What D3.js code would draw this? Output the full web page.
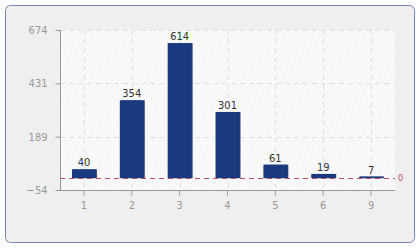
<!DOCTYPE html>
<html><head><meta charset="utf-8">
<script src="https://cdn.jsdelivr.net/npm/d3@7"></script>
<style>html,body{margin:0;padding:0;background:#fff;}svg{display:block;}</style>
</head><body>
<script>
const categories = ["1","2","3","4","5","6","9"];
const values = [40,354,614,301,61,19,7];
const yTicks = [-54,189,431,674];
const yDomain = [-54,674];
const baseline = 0;

const W=420,H=250;
const m={l:60,t:30,r:395,b:190};
const svg=d3.select("body").append("svg").attr("width",W).attr("height",H);
const defs=svg.append("defs");
const pat=defs.append("pattern").attr("id","hatch").attr("patternUnits","userSpaceOnUse")
  .attr("width",4).attr("height",4).attr("patternTransform","rotate(45)");
pat.append("rect").attr("width",4).attr("height",4).attr("fill","#fafafa");
pat.append("line").attr("x1",0).attr("y1",0).attr("x2",0).attr("y2",4).attr("stroke","#ececec").attr("stroke-width",1);

svg.append("rect").attr("x",5.5).attr("y",5.5).attr("width",409).attr("height",237).attr("rx",5)
  .attr("fill","#efefef").attr("stroke","#7585b5").attr("stroke-width",1);

const x=d3.scaleBand().domain(categories).range([m.l,m.r]).paddingInner(0.5).paddingOuter(0.25);
const y=d3.scaleLinear().domain(yDomain).range([m.b,m.t]);

svg.append("rect").attr("x",m.l).attr("y",m.t).attr("width",m.r-m.l).attr("height",m.b-m.t).attr("fill","url(#hatch)");

const font="'DejaVu Sans Condensed', 'DejaVu Sans', sans-serif";
// grid
svg.append("g").selectAll("line").data(yTicks.slice(1)).join("line")
  .attr("x1",m.l).attr("x2",m.r).attr("y1",d=>Math.round(y(d))+0.5).attr("y2",d=>Math.round(y(d))+0.5)
  .attr("stroke","#e0e0e0").attr("stroke-dasharray","5,4");
svg.append("g").selectAll("line").data(categories).join("line")
  .attr("y1",m.t).attr("y2",m.b).attr("x1",d=>Math.round(x(d)+x.bandwidth()/2)+0.5).attr("x2",d=>Math.round(x(d)+x.bandwidth()/2)+0.5)
  .attr("stroke","#e0e0e0").attr("stroke-dasharray","5,4");

// axes
const yAxis=d3.axisLeft(y).tickValues(yTicks).tickSize(5).tickPadding(8);
const gy=svg.append("g").attr("transform",`translate(${m.l+0.5},0)`).call(yAxis);
gy.select(".domain").attr("stroke","#999").attr("d",`M0,${m.t}V${m.b}`);
gy.selectAll(".tick line").attr("stroke","#999");
gy.selectAll(".tick text").attr("fill","#999").attr("font-family",font).attr("font-size",11);

const xAxis=d3.axisBottom(x).tickSize(5).tickPadding(6);
const gx=svg.append("g").attr("transform",`translate(0,${m.b+0.5})`).call(xAxis);
gx.select(".domain").attr("stroke","#999").attr("d",`M${m.l},0H${m.r}`);
gx.selectAll(".tick line").attr("stroke","#999");
gx.selectAll(".tick text").attr("fill","#999").attr("font-family",font).attr("font-size",11);

// bars
svg.append("g").selectAll("rect").data(values).join("rect")
  .attr("x",(d,i)=>x(categories[i])+1).attr("y",d=>y(d)).attr("width",x.bandwidth()).attr("height",d=>y(baseline)-y(d))
  .attr("fill","#2a3f6e");
svg.append("g").selectAll("rect").data(values).join("rect")
  .attr("x",(d,i)=>x(categories[i])).attr("y",d=>y(d)).attr("width",x.bandwidth()).attr("height",d=>y(baseline)-y(d))
  .attr("fill","#1a3a80");
svg.append("g").selectAll("text").data(values).join("text")
  .attr("x",(d,i)=>x(categories[i])+x.bandwidth()/2).attr("y",d=>y(d)-3)
  .attr("text-anchor","middle").attr("font-family",font).attr("font-size",11).attr("fill","#333").text(d=>d);

// zero line
svg.append("line").attr("x1",m.l).attr("x2",m.r).attr("y1",Math.round(y(baseline))+0.5).attr("y2",Math.round(y(baseline))+0.5)
  .attr("stroke","#b85068").attr("stroke-dasharray","5,4");
svg.append("text").attr("x",m.r+3).attr("y",y(baseline)+3).attr("font-family",font).attr("font-size",9)
  .attr("fill","#b85068").text(baseline);
</script>
</body></html>
